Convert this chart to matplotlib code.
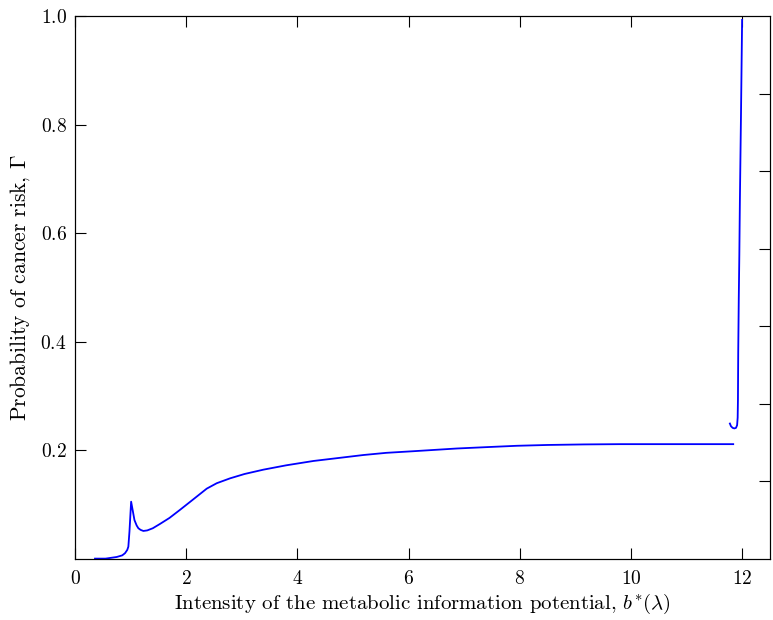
import numpy as np
import matplotlib
matplotlib.use('Agg')
import matplotlib.pyplot as plt

plt.rcParams['font.family'] = 'serif'
plt.rcParams['font.serif'] = ['cmr10']
plt.rcParams['mathtext.fontset'] = 'cm'
plt.rcParams['axes.formatter.use_mathtext'] = True
plt.rcParams['axes.unicode_minus'] = False

# lower branch of the risk curve
b_low = [0.36, 0.55, 0.75, 0.85, 0.90, 0.94, 0.96, 0.98, 1.01, 1.04, 1.07, 1.11, 1.14, 1.18,
         1.23, 1.30, 1.40, 1.53, 1.70, 1.89, 2.10, 2.37, 2.55, 2.79, 3.05, 3.39, 3.80,
         4.29, 4.70, 5.19, 5.60, 6.09, 6.87, 7.40, 7.95, 8.50, 9.15, 9.80, 10.35, 11.00, 11.84]
g_low = [0.000, 0.000, 0.003, 0.006, 0.010, 0.016, 0.022, 0.050, 0.105, 0.088, 0.071, 0.061,
         0.056, 0.053, 0.051, 0.052, 0.056, 0.064, 0.075, 0.090, 0.107, 0.129, 0.139, 0.148,
         0.156, 0.164, 0.172, 0.180, 0.185, 0.191, 0.195, 0.198, 0.203, 0.2055, 0.208, 0.2095,
         0.2105, 0.211, 0.211, 0.211, 0.211]

# upper branch near b* = 12
b_up = [11.78, 11.80, 11.83, 11.86, 11.89, 11.91, 11.92, 11.925, 11.93, 11.94, 11.95, 11.96,
        11.98, 12.00]
g_up = [0.249, 0.244, 0.241, 0.240, 0.241, 0.246, 0.26, 0.292, 0.38, 0.48, 0.56, 0.66,
        0.82, 0.993]

fig = plt.figure(figsize=(7.73, 6.2), dpi=100)
ax = fig.add_axes([0.097, 0.099, 0.899, 0.875])

ax.plot(b_low, g_low, color='#0000ff', lw=1.3)
ax.plot(b_up, g_up, color='#0000ff', lw=1.3)

ax.set_xlim(0, 12.5)
ax.set_ylim(0, 1.0)
ax.set_xticks(np.arange(0, 13, 2))
ax.set_yticks([0.2, 0.4, 0.6, 0.8, 1.0])
ax.tick_params(axis='x', direction='in', length=8, top=True, labelsize=14, pad=8)
ax.tick_params(axis='y', direction='in', length=8, right=False, labelsize=14, pad=6)

ax2 = ax.twinx()
ax2.set_ylim(0, 1.0)
ax2.set_yticks(np.arange(1, 7) / 7)
ax2.tick_params(axis='y', direction='in', length=8, labelright=False)

ax.set_xlabel(r'Intensity of the metabolic information potential, $b^{*}(\lambda)$', fontsize=15, labelpad=3)
ax.set_ylabel(r'Probability of cancer risk, $\Gamma$', fontsize=15.5, labelpad=6)

fig.savefig('out.png', dpi=100)
